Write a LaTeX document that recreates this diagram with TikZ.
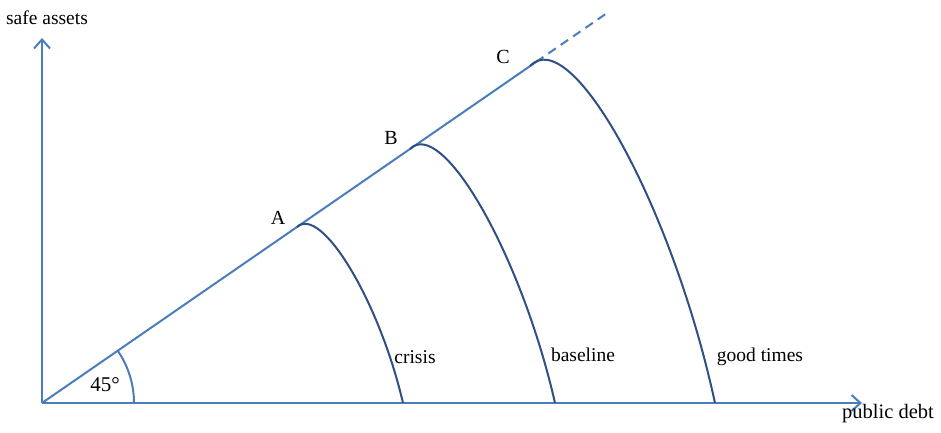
\documentclass[tikz,border=0pt]{standalone}
\usepackage{fontspec}
\setmainfont{Liberation Serif}
\usetikzlibrary{arrows.meta}
\definecolor{axisblue}{HTML}{4A7EBB}
\definecolor{curveblue}{HTML}{2F4F85}
\begin{document}
\begin{tikzpicture}[x=1pt,y=1pt,
  axis/.style={draw=axisblue,line width=2pt,-{Straight Barb[length=9pt,width=16pt,line width=2pt]}},
  ray/.style={draw=axisblue,line width=2pt},
  curve/.style={draw=curveblue,line width=2pt},
  lbl/.style={inner sep=0pt,font=\fontsize{19.5}{21}\selectfont}]
\useasboundingbox (0,0) rectangle (941,433);
\coordinate (O) at (42,30);
\coordinate (xend) at (862,30);
\coordinate (yend) at (42,395);
\coordinate (A) at (297,206);
\coordinate (B) at (410,284);
\coordinate (C) at (530,367);
\coordinate (Cs) at (536,371);
\coordinate (dend) at (610,422);
\coordinate (Aend) at (403,30);
\coordinate (Bend) at (555,30);
\coordinate (Cend) at (715,30);
\draw[axis] (O) -- (xend);
\draw[axis] (O) -- (yend);
\draw[ray] (O) -- (Cs);
\draw[ray,dashed,dash pattern=on 9pt off 6pt] (Cs) -- (dend);
\draw[ray] (134,30) arc[start angle=0,end angle=34.6,radius=92];
\draw[curve] (A) .. controls (321,228) and (379,133) .. (Aend);
\draw[curve] (B) .. controls (442,316) and (521,179) .. (Bend);
\draw[curve] (C) .. controls (571,410) and (672,228) .. (Cend);
\node[lbl] (ys) at (47,415) {safe assets};
\node[lbl,font=\fontsize{20.5}{22}\selectfont] (xs) at (888,19) {public debt};
\node[lbl,font=\fontsize{20}{22}\selectfont] (la) at (278,215) {A};
\node[lbl,font=\fontsize{20}{22}\selectfont] (lb) at (391,295) {B};
\node[lbl,font=\fontsize{20}{22}\selectfont] (lc) at (503,376) {C};
\node[lbl] (lcr) at (415,76) {crisis};
\node[lbl] (lba) at (583,78) {baseline};
\node[lbl] (lgt) at (760,76) {good times};
\node[lbl,font=\fontsize{21}{23}\selectfont] (ang) at (105,48) {45°};
\end{tikzpicture}
\end{document}
